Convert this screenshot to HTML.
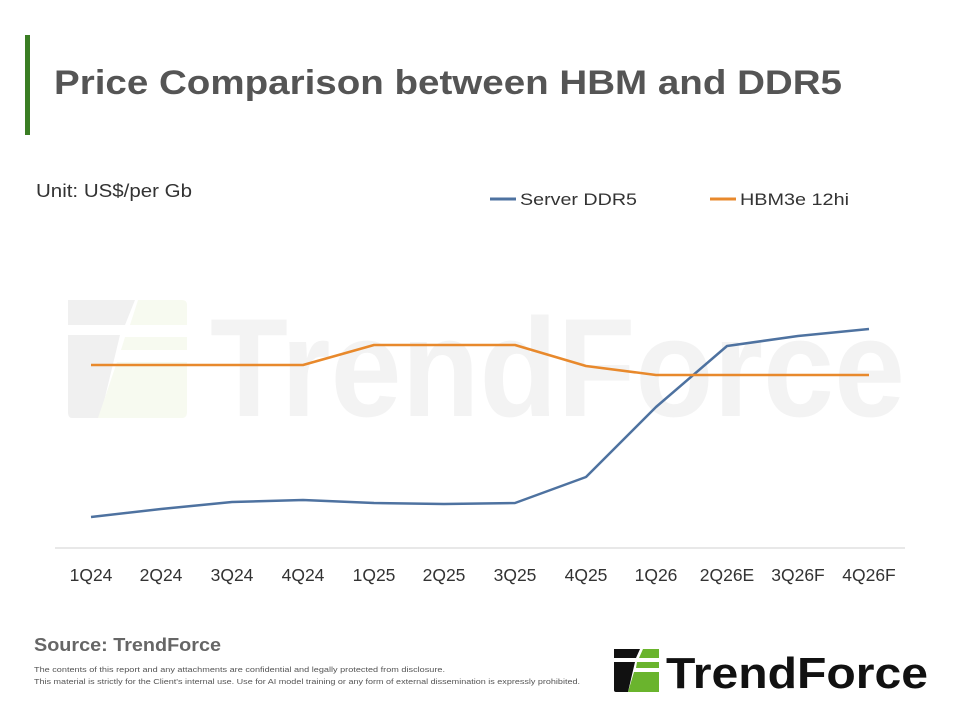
<!DOCTYPE html>
<html><head><meta charset="utf-8"><style>
body{margin:0;width:960px;height:720px;background:#fff;overflow:hidden;font-family:"Liberation Sans",sans-serif;position:relative}
</style></head><body>
<svg width="960" height="720" style="position:absolute;left:0;top:0" xmlns="http://www.w3.org/2000/svg">
<rect x="25" y="35" width="5" height="100" fill="#3a7d23"/>
<text x="54" y="94" font-size="34" font-weight="bold" fill="#555" textLength="788" lengthAdjust="spacingAndGlyphs">Price Comparison between HBM and DDR5</text>
<text x="36" y="197" font-size="18" fill="#333" textLength="156" lengthAdjust="spacingAndGlyphs">Unit: US$/per Gb</text>
<line x1="490" y1="199" x2="516" y2="199" stroke="#4e72a0" stroke-width="3"/>
<text x="520" y="205" font-size="17" fill="#333" textLength="117" lengthAdjust="spacingAndGlyphs">Server DDR5</text>
<line x1="710" y1="199" x2="736" y2="199" stroke="#e8892c" stroke-width="3"/>
<text x="740" y="205" font-size="17" fill="#333" textLength="109" lengthAdjust="spacingAndGlyphs">HBM3e 12hi</text>
<g>
<path d="M68 300 H135 L125 325 H68 Z M68 335 H120 L100 418 H72 Q68 418 68 412 Z" fill="#f0f0f0"/>
<path d="M138 300 H182 Q187 300 187 305 V325 H130 Z M125 337 H187 V350 H121 Z M117 362 H187 V412 Q187 418 182 418 H98 Z" fill="#f7faf0"/>
<text x="210" y="416" font-size="140" font-weight="bold" fill="#f3f3f3" textLength="695" lengthAdjust="spacingAndGlyphs">TrendForce</text>
</g>
<line x1="55" y1="548" x2="905" y2="548" stroke="#d0d0d0" stroke-width="1"/>
<polyline fill="none" stroke="#4e72a0" stroke-width="2.5" stroke-linejoin="round" points="91,517 161,509 232,502 303,500 374,503 444,504 515,503 586,477 656,407 727,346 798,336 869,329"/>
<polyline fill="none" stroke="#e8892c" stroke-width="2.5" stroke-linejoin="round" points="91,365 161,365 232,365 303,365 374,345 444,345 515,345 586,366 656,375 727,375 798,375 869,375"/>
<g font-size="17.5" fill="#333" text-anchor="middle">
<text x="91" y="581">1Q24</text><text x="161" y="581">2Q24</text><text x="232" y="581">3Q24</text><text x="303" y="581">4Q24</text><text x="374" y="581">1Q25</text><text x="444" y="581">2Q25</text><text x="515" y="581">3Q25</text><text x="586" y="581">4Q25</text><text x="656" y="581">1Q26</text><text x="727" y="581">2Q26E</text><text x="798" y="581">3Q26F</text><text x="869" y="581">4Q26F</text>
</g>
<text x="34" y="651" font-size="18" font-weight="bold" fill="#666" textLength="187" lengthAdjust="spacingAndGlyphs">Source: TrendForce</text>
<text x="34" y="672" font-size="7.5" fill="#555" textLength="411" lengthAdjust="spacingAndGlyphs">The contents of this report and any attachments are confidential and legally protected from disclosure.</text>
<text x="34" y="684" font-size="7.5" fill="#555" textLength="546" lengthAdjust="spacingAndGlyphs">This material is strictly for the Client's internal use. Use for AI model training or any form of external dissemination is expressly prohibited.</text>
<path d="M614 649 H640 L636 658 H614 Z M614 662 H635 L628 692 H616 Q614 692 614 690 Z" fill="#111"/>
<path d="M643 649 H659 V658 H639 Z M637 662 H659 V668 H636 Z M634 672 H659 V692 H628 Z" fill="#6ab42d"/>
<text x="666" y="688" font-size="44" font-weight="bold" fill="#111" textLength="262" lengthAdjust="spacingAndGlyphs">TrendForce</text>
</svg>
</body></html>
